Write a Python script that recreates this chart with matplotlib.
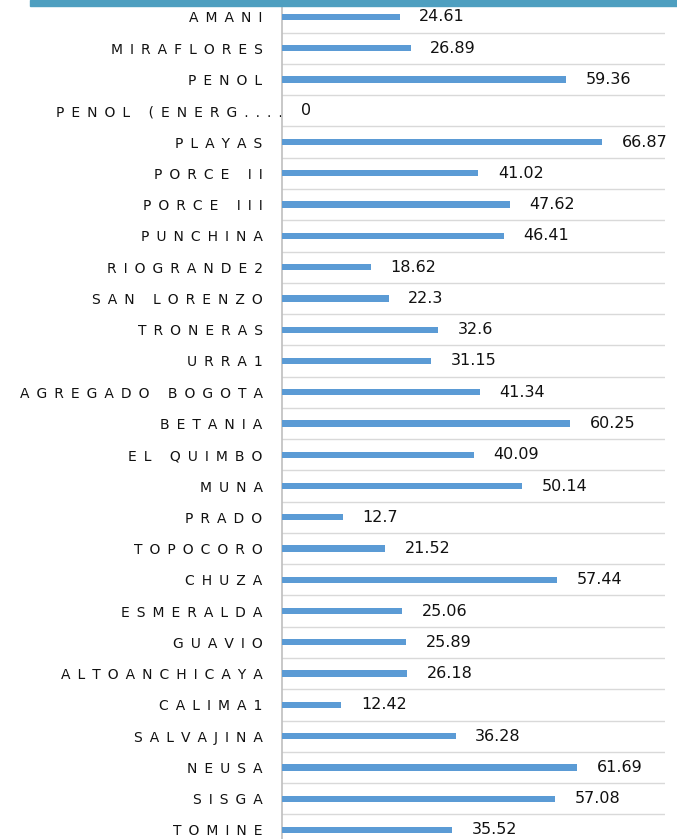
import numpy as np
import matplotlib
matplotlib.use('Agg')
import matplotlib.pyplot as plt
import matplotlib.transforms as mtransforms
from matplotlib.patches import Rectangle

plt.rcParams['font.family'] = ['DejaVu Sans']

# datos (de arriba hacia abajo)
embalses = ['AMANI', 'MIRAFLORES', 'PENOL', 'PENOL (ENERG....', 'PLAYAS',
            'PORCE II', 'PORCE III', 'PUNCHINA', 'RIOGRANDE2', 'SAN LORENZO',
            'TRONERAS', 'URRA1', 'AGREGADO BOGOTA', 'BETANIA', 'EL QUIMBO',
            'MUNA', 'PRADO', 'TOPOCORO', 'CHUZA', 'ESMERALDA', 'GUAVIO',
            'ALTOANCHICAYA', 'CALIMA1', 'SALVAJINA', 'NEUSA', 'SISGA', 'TOMINE']
valores = [24.61, 26.89, 59.36, 0, 66.87, 41.02, 47.62, 46.41, 18.62, 22.3,
           32.6, 31.15, 41.34, 60.25, 40.09, 50.14, 12.7, 21.52, 57.44, 25.06,
           25.89, 26.18, 12.42, 36.28, 61.69, 57.08, 35.52]
etiquetas = ['24.61', '26.89', '59.36', '0', '66.87', '41.02', '47.62', '46.41',
             '18.62', '22.3', '32.6', '31.15', '41.34', '60.25', '40.09', '50.14',
             '12.7', '21.52', '57.44', '25.06', '25.89', '26.18', '12.42',
             '36.28', '61.69', '57.08', '35.52']


def espaciar(txt):      # letras separadas, como en el original
    return '\u2002'.join(txt)


W, H = 677, 839
fig = plt.figure(figsize=(W / 100, H / 100), dpi=100)
top_px, bot_px = 1.36, 845.6
ax = fig.add_axes([282 / W, (H - bot_px) / H, 383 / W, (bot_px - top_px) / H])

y = np.arange(len(embalses))
ax.barh(y, valores, height=0.2, color='#5B9BD5', zorder=3)
ax.set_xlim(0, 80)
ax.set_ylim(len(embalses) - 0.5, -0.5)

# lineas de division entre categorias
for k in range(len(embalses)):
    ax.axhline(k + 0.5, color='#D9D9D9', lw=1.0, zorder=1)

ax.set_yticks(y)
ax.set_yticklabels([espaciar(e) for e in embalses], fontsize=10, color='#111111')
ax.tick_params(axis='y', length=0, pad=14)
ax.set_xticks([])
for s in ['top', 'right', 'bottom']:
    ax.spines[s].set_visible(False)
ax.spines['left'].set_color('#BFBFBF')
ax.spines['left'].set_linewidth(1.2)

# la etiqueta recortada se sale un poco hacia la derecha
lab = ax.get_yticklabels()[3]
lab.set_transform(lab.get_transform() + mtransforms.ScaledTranslation(20 / 100, 0, fig.dpi_scale_trans))

for yi, v, t in zip(y, valores, etiquetas):
    ax.annotate(t, (v, yi), xytext=(14, 0), textcoords='offset points',
                va='center', ha='left', fontsize=11.5, color='#111111')

# franja azul decorativa arriba
fig.patches.append(Rectangle((30 / W, 1 - 6 / H), 1, 6 / H, transform=fig.transFigure,
                             color='#4E9FC0', zorder=10))

fig.savefig('out.png', dpi=100)
